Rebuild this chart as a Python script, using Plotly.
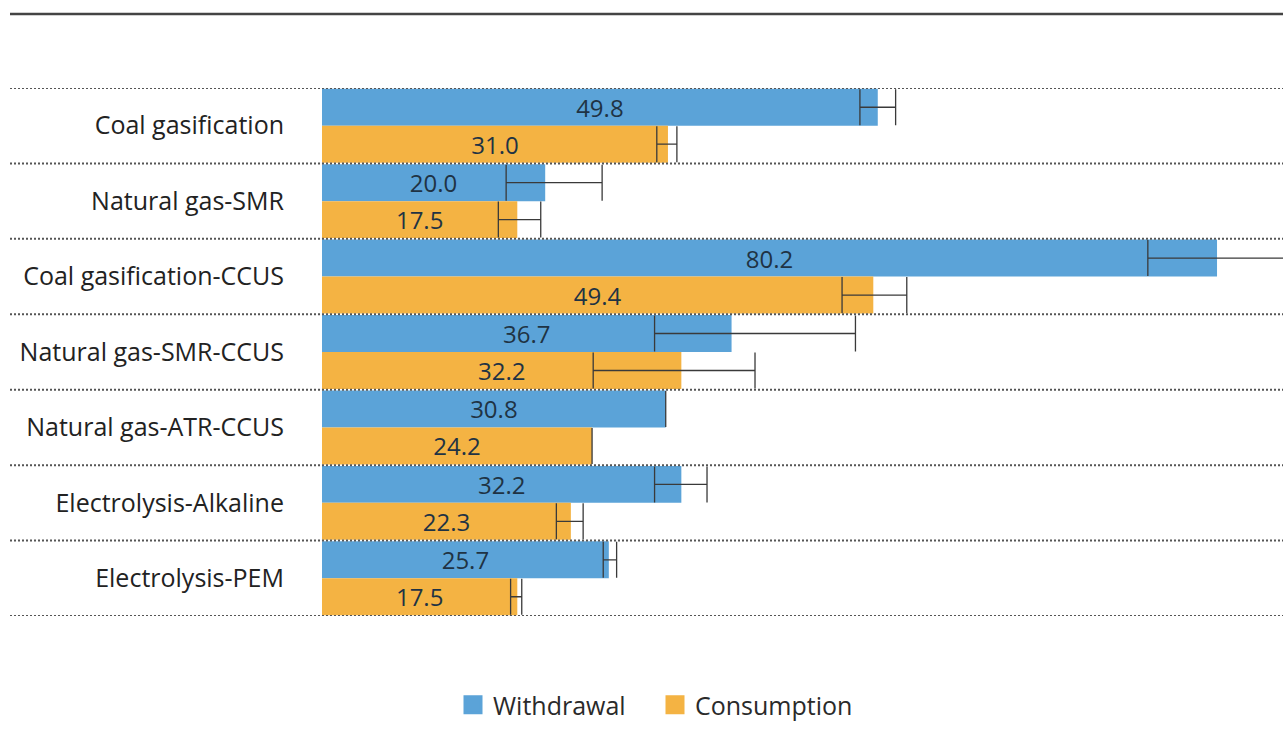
import plotly.graph_objects as go

# Water use per hydrogen production route
routes = [
    "Coal gasification",
    "Natural gas-SMR",
    "Coal gasification-CCUS",
    "Natural gas-SMR-CCUS",
    "Natural gas-ATR-CCUS",
    "Electrolysis-Alkaline",
    "Electrolysis-PEM",
]
withdrawal = [49.8, 20.0, 80.2, 36.7, 30.8, 32.2, 25.7]
withdrawal_min = [48.2, 16.5, 74.0, 29.8, 30.8, 29.8, 25.2]
withdrawal_max = [51.4, 25.1, 88.0, 47.8, 30.8, 34.5, 26.4]
consumption = [31.0, 17.5, 49.4, 32.2, 24.2, 22.3, 17.5]
consumption_min = [30.0, 15.8, 46.6, 24.3, 24.2, 21.0, 16.9]
consumption_max = [31.8, 19.6, 52.4, 38.8, 24.2, 23.4, 17.9]

BLUE = "#5ba3d8"
ORANGE = "#f4b343"
FONT = "Open Sans"

W, H = 1283, 738
ML, MR, MT, MB = 322, 0, 88, 122
plot_w = W - ML - MR
plot_h = H - MT - MB


def err(vals, lo, hi):
    return dict(
        type="data",
        symmetric=False,
        array=[h - v for v, h in zip(vals, hi)],
        arrayminus=[v - l for v, l in zip(vals, lo)],
        color="#3a3a3a",
        thickness=1.3,
        width=18,
    )


fig = go.Figure()
for name, vals, lo, hi, col in [
    ("Withdrawal", withdrawal, withdrawal_min, withdrawal_max, BLUE),
    ("Consumption", consumption, consumption_min, consumption_max, ORANGE),
]:
    fig.add_trace(go.Bar(
        y=routes, x=vals, orientation="h", name=name,
        marker=dict(color=col, line=dict(width=0)),
        text=[f"{v:.1f}" for v in vals],
        textposition="inside", insidetextanchor="middle",
        textangle=0, constraintext="none",
        textfont=dict(family=FONT, size=24, color="#1f3344"),
        error_x=err(vals, lo, hi),
        showlegend=False,
    ))
    # square legend swatch
    fig.add_trace(go.Scatter(
        x=[None], y=[None], mode="markers", name=name,
        marker=dict(symbol="square", size=16, color=col,
                    line=dict(color=col, width=3)),
    ))

# dotted separators between routes, running across the label column
x_left = (10 - ML) / plot_w
for i in range(len(routes) + 1):
    fig.add_shape(type="line", xref="paper", yref="y",
                  x0=x_left, x1=1, y0=i - 0.5, y1=i - 0.5,
                  line=dict(color="#555555", width=2, dash="2px,2px"),
                  layer="above")

# heavy rule along the top
y_top = 1 + (MT - 14) / plot_h
fig.add_shape(type="line", xref="paper", yref="paper",
              x0=x_left, x1=1, y0=y_top, y1=y_top,
              line=dict(color="#444444", width=2.5))

fig.update_layout(
    width=W, height=H,
    margin=dict(l=ML, r=MR, t=MT, b=MB, autoexpand=False),
    paper_bgcolor="white", plot_bgcolor="white",
    barmode="group", bargap=0.02, bargroupgap=0.0,
    font=dict(family=FONT, color="#222222"),
    xaxis=dict(range=[0, plot_w / 11.16], visible=False, showgrid=False, zeroline=False),
    yaxis=dict(
        categoryorder="array", categoryarray=routes,
        range=[len(routes) - 0.5, -0.5],
        showgrid=False, zeroline=False, showline=False, ticks="",
        tickfont=dict(family=FONT, size=25, color="#222222"),
        ticklabelstandoff=37,
    ),
    legend=dict(
        orientation="h", x=(655 - ML) / plot_w, xanchor="center",
        y=-(705 - (MT + plot_h)) / plot_h, yanchor="middle",
        font=dict(family=FONT, size=25, color="#2a2a2a"),
        itemwidth=30, tracegroupgap=0,
        entrywidth=157, entrywidthmode="pixels",
    ),
)

fig.write_html("out.html")
